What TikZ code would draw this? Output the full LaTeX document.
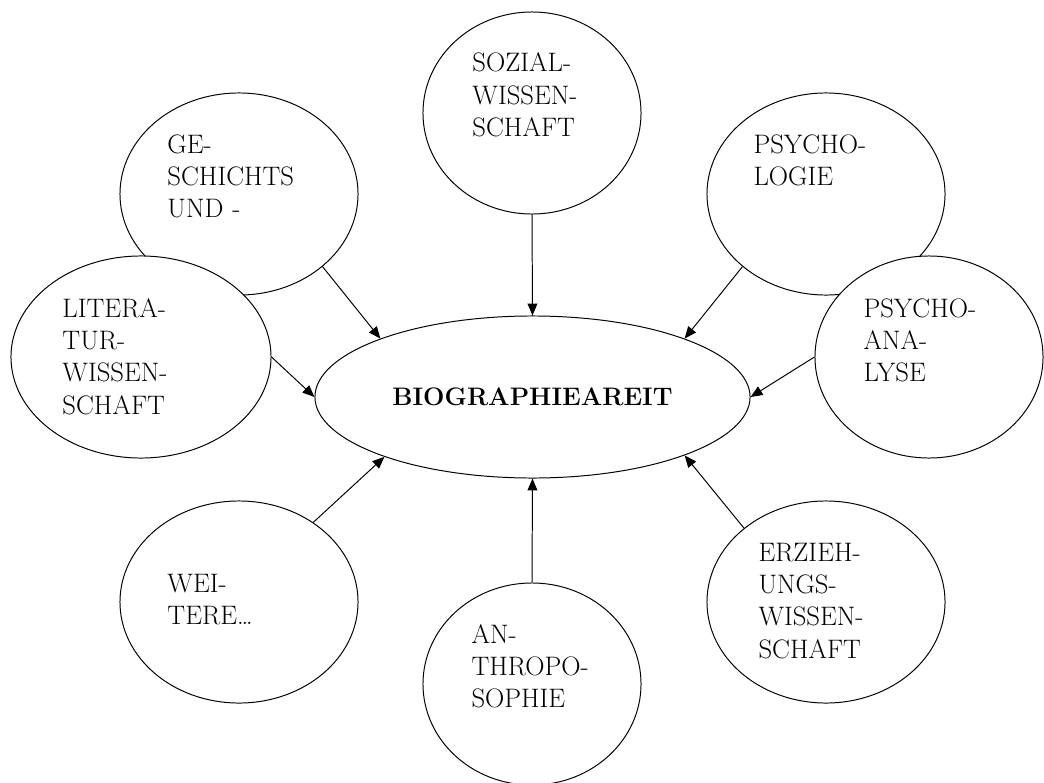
\documentclass[tikz,border=0pt]{standalone}
\usepackage{tikz}
\usetikzlibrary{shapes.geometric,arrows.meta}

\begin{document}
\begin{tikzpicture}[x=0.025cm, y=-0.025cm, line width=0.7pt,
        >={Triangle[length=8.5pt,width=7pt]},
        field/.style 2 args = {draw, ellipse, fill=white, inner sep=0pt, minimum width=#1, minimum height=#2},
        words/.style = {anchor=base west, align=left, text width=4.5cm, inner sep=0pt, font=\fontsize{19}{23}\selectfont}]
        \useasboundingbox (0,0) rectangle (1044,782);

        % topics
        \node[field={5.95cm}{5.05cm}] (gesch) at (239,194) {};
        \node[field={6.5cm}{5.05cm}] (lit) at (141,357) {};
        \node[field={5.45cm}{5.05cm}] (sozial) at (532,113) {};
        \node[field={5.95cm}{5.05cm}] (psychol) at (826,194) {};
        \node[field={5.7cm}{5.05cm}] (psychoana) at (929,357) {};
        \node[field={5.95cm}{5.05cm}] (erzieh) at (826,602) {};
        \node[field={5.45cm}{5.05cm}] (anthro) at (532,684) {};
        \node[field={5.95cm}{5.05cm}] (weitere) at (239,602) {};
        \node[field={10.875cm}{4.05cm}, font=\fontsize{18}{20}\selectfont\bfseries] (bio) at (532.5,397) {BIOGRAPHIEAREIT};

        % texts
        \node[words] (gesch-t) at (167,153) {GE-\\SCHICHTS\\UND -};
        \node[words] (lit-t) at (62,317) {LITERA-\\TUR-\\WISSEN-\\SCHAFT};
        \node[words] (sozial-t) at (472,72) {SOZIAL-\\WISSEN-\\SCHAFT};
        \node[words] (psychol-t) at (753,153) {PSYCHO-\\LOGIE};
        \node[words] (psychoana-t) at (863,317) {PSYCHO-\\ANA-\\LYSE};
        \node[words] (erzieh-t) at (758,561) {ERZIEH-\\UNGS-\\WISSEN-\\SCHAFT};
        \node[words] (anthro-t) at (471,643) {AN-\\THROPO-\\SOPHIE};
        \node[words] (weitere-t) at (167,592) {WEI-\\TERE\ldots};

        % arrows
        \draw[->] (gesch.-41) -- (bio.159);
        \draw[->] (lit.east) -- (bio.west);
        \draw[->] (sozial.south) -- (bio.north);
        \draw[->] (psychol.-139) -- (bio.21);
        \draw[->] (psychoana.west) -- (bio.east);
        \draw[->] (erzieh.138) -- (bio.-21);
        \draw[->] (anthro.north) -- (bio.south);
        \draw[->] (weitere.47) -- (bio.-158);
    \end{tikzpicture}
\end{document}
